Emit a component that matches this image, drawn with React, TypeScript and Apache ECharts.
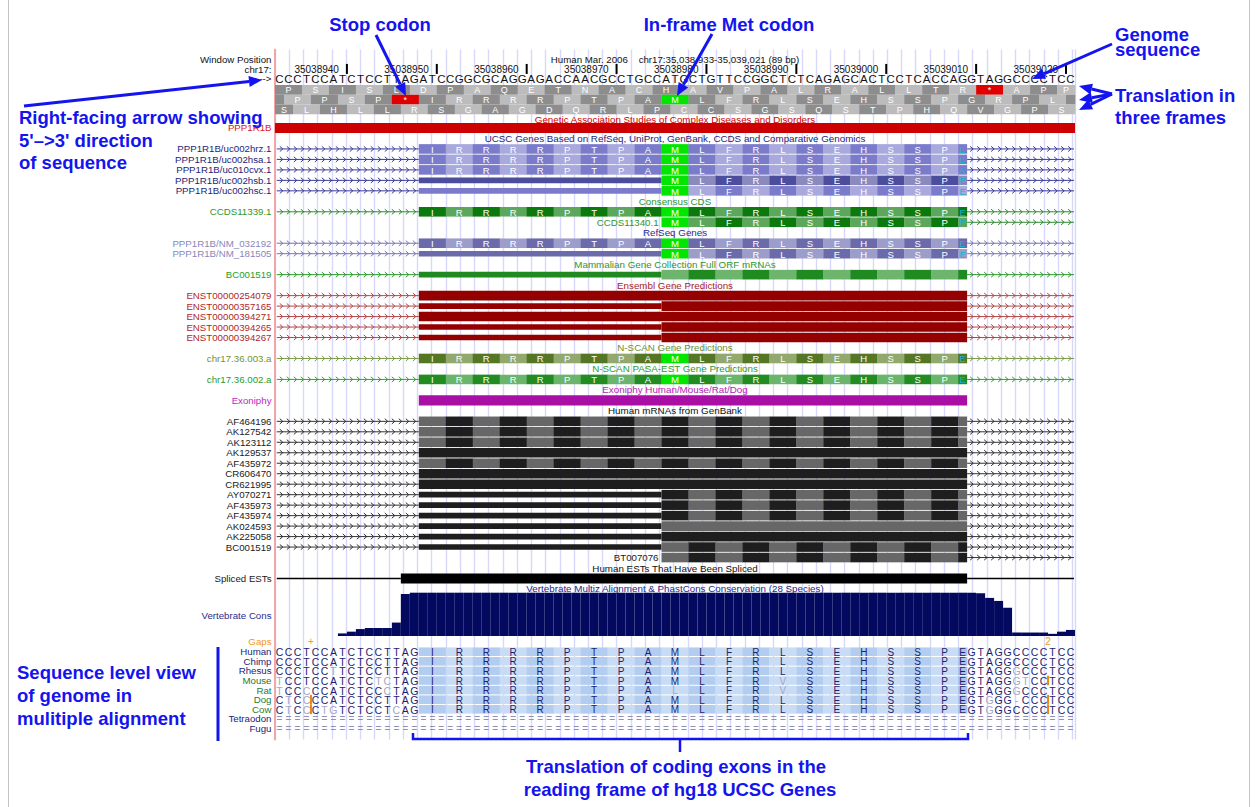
import React, { useEffect, useRef } from "react";
import * as echarts from "echarts";

/* ======================= DATA ======================= */
const FIRST_BASE = 35038933;
const BASE_COUNT = 89;
const HEADER_TEXT = "Human Mar. 2006    chr17:35,038,933-35,039,021 (89 bp)";
const GENOME_SEQUENCE =
  "CCCTCCATCTCCTTAG" +
  "ATCCGGCGCAGGAGACCAACGCCTGCCATGCTGTTCCGGCTCTCAGAGCACTCCTCACCAG" +
  "GTAGGCCCCTCC";
const POSITION_TICKS = [35038940, 35038950, 35038960, 35038970, 35038980, 35038990, 35039000, 35039010, 35039020];
const FRAME_TRANSLATIONS = [
  "PSISLDPAQETNACHAVPALRALLTR*APP",
  " PPSP*IRRRRPTPAMLFRLSEHSSPGRPL ",
  "SLHLLRSGAGDQRLPCCSGSQSTPHQVGPS",
];
// coding exon (base indexes inside the window)
const CDS_FROM = 16;
const CDS_TO = 77;
const CODING_AA = "IRRRRPTPAMLFRLSEHSSP";

const TRACK_TITLES = [
  "Genetic Association Studies of Complex Diseases and Disorders",
  "UCSC Genes Based on RefSeq, UniProt, GenBank, CCDS and Comparative Genomics",
  "Consensus CDS",
  "RefSeq Genes",
  "Mammalian Gene Collection Full ORF mRNAs",
  "Ensembl Gene Predictions",
  "N-SCAN Gene Predictions",
  "N-SCAN PASA-EST Gene Predictions",
  "Exoniphy Human/Mouse/Rat/Dog",
  "Human mRNAs from GenBank",
  "Human ESTs That Have Been Spliced",
  "Vertebrate Multiz Alignment & PhastCons Conservation (28 Species)",
];

const GAD_ITEMS = [{ label: "PPP1R1B", from: 0, to: 89 }];
const UCSC_GENES = [
  { label: "PPP1R1B/uc002hrz.1", thin: null, cds: 16, last: "E", phase: 0 },
  { label: "PPP1R1B/uc002hsa.1", thin: null, cds: 16, last: "E", phase: 0 },
  { label: "PPP1R1B/uc010cvx.1", thin: null, cds: 16, last: "A", phase: 0 },
  { label: "PPP1R1B/uc002hsb.1", thin: 16, cds: 43, last: "E", phase: 1 },
  { label: "PPP1R1B/uc002hsc.1", thin: 16, cds: 43, last: "E", phase: 1 },
];
const CCDS_GENES = [
  { label: "CCDS11339.1", thin: null, cds: 16, last: "E", phase: 0 },
  { label: "CCDS11340.1", thin: null, cds: 43, last: "E", phase: 1, inline: true },
];
const REFSEQ_GENES = [
  { label: "PPP1R1B/NM_032192", thin: null, cds: 16, last: "E", phase: 0 },
  { label: "PPP1R1B/NM_181505", thin: 16, cds: 43, last: "E", phase: 1 },
];
const MGC_GENES = [{ label: "BC001519", thin: 16, cds: 43, last: "", phase: 0 }];
const ENSEMBL_GENES = [
  { label: "ENST00000254079", thin: null, cds: 16, pattern: "solid" },
  { label: "ENST00000357165", thin: 16, cds: 43, pattern: "solid" },
  { label: "ENST00000394271", thin: null, cds: 16, pattern: "solid" },
  { label: "ENST00000394265", thin: 16, cds: 43, pattern: "solid" },
  { label: "ENST00000394267", thin: 16, cds: 43, pattern: "solid" },
];
const NSCAN_GENES = [{ label: "chr17.36.003.a", thin: null, cds: 16, last: "E", phase: 0 }];
const PASA_GENES = [{ label: "chr17.36.002.a", thin: null, cds: 16, last: "E", phase: 0 }];
const EXONIPHY_ITEMS = [{ label: "Exoniphy", from: 16, to: 77 }];
const HUMAN_MRNAS = [
  { label: "AF464196", thin: null, cds: 16, pattern: "codon", phase: 0 },
  { label: "AK127542", thin: null, cds: 16, pattern: "codon", phase: 0 },
  { label: "AK123112", thin: null, cds: 16, pattern: "codon", phase: 0 },
  { label: "AK129537", thin: null, cds: 16, pattern: "black", phase: 0 },
  { label: "AF435972", thin: null, cds: 16, pattern: "codon", phase: 0 },
  { label: "CR606470", thin: null, cds: 16, pattern: "black", phase: 0 },
  { label: "CR621995", thin: null, cds: 16, pattern: "black", phase: 0 },
  { label: "AY070271", thin: 16, cds: 43, pattern: "codon", phase: 0 },
  { label: "AF435973", thin: 16, cds: 43, pattern: "codon", phase: 0 },
  { label: "AF435974", thin: 16, cds: 43, pattern: "codon", phase: 0 },
  { label: "AK024593", thin: 16, cds: 43, pattern: "gray", phase: 0 },
  { label: "AK225058", thin: 16, cds: 43, pattern: "black", phase: 0 },
  { label: "BC001519", thin: 16, cds: 43, pattern: "codon", phase: 1 },
  { label: "BT007076", thin: null, cds: 43, pattern: "codon", phase: 1, inline: true },
];
const SPLICED_ESTS = [{ label: "Spliced ESTs", from: 14, to: 77 }];

const VERTEBRATE_CONS = [
  0, 0, 0, 0, 0, 0, 0, 0.06, 0.1, 0.16,
  0.185, 0.185, 0.185, 0.31, 0.97, 1, 1, 1, 1, 1,
  1, 1, 1, 1, 1, 1, 1, 1, 1, 1,
  1, 1, 1, 1, 1, 1, 1, 1, 1, 1,
  1, 1, 1, 1, 1, 1, 1, 1, 1, 1,
  1, 1, 1, 1, 1, 1, 1, 1, 1, 1,
  1, 1, 1, 1, 1, 1, 1, 1, 1, 1,
  1, 1, 1, 1, 1, 1, 1, 1, 0.985, 0.88,
  0.81, 0.65, 0.08, 0.08, 0.08, 0.08, 0.05, 0.1, 0.14,
];

const SPECIES = ["Human", "Chimp", "Rhesus", "Mouse", "Rat", "Dog", "Cow", "Tetraodon", "Fugu"];
const UPSTREAM = [
  "CCCTCCATCTCCTTAG", "CCCTCCATCTCCTTAG", "CCCTCCTTCTCCTTAG", "TCCTCCATCTCTCTAG",
  "TCCCCCATCTCCCTAG", "CTCCCCATCTCCTTAG", "CTCCCTGTCTCCTCAG", "", "",
];
const PROTEIN = [
  "IRRRRPTPAMLFRLSEHSSPE", "IRRRRPTPAMLFRLSEHSSPE", "IRRRRPTPAMLFRLSEHSSPE", "IRRRRPTPAMLFRVSEHSSPE",
  "IRRRRPTPALLFRVSEHSSPE", "IRRRRPTPAMLFRLSEHSSPE", "IRRRRPTPAMLFRLSEHSSPE", "", "",
];
const DOWNSTREAM = [
  "GTAGGCCCCTCC", "GTAGGCCCCTCC", "GTAGGGCCCTCC", "GTAGGGTCCTCC",
  "GTAGGGCCCTCC", "GTGGG-CCCTCC", "GTGGGCCCCTCC", "", "",
];
const GAP_MARKS = [{ at: 4, text: "+" }, { at: 86, text: "2" }];
const INSERTIONS = [
  { species: "Dog", at: 4 }, { species: "Cow", at: 4 },
  { species: "Mouse", at: 86 }, { species: "Dog", at: 86 }, { species: "Cow", at: 86 },
];

/* ======================= STYLE / LAYOUT ======================= */
const FONT = '"Liberation Sans", Arial, Helvetica, sans-serif';
const BLUE = "#1414ee";
const NOTE_SIZE = 18.5;
const ROW_PX = 10.477;
const GRID_TOP = 49.4;
const GRID_H = 690;
const Y_MIN = -7.5;
const Y_MAX = Y_MIN + GRID_H / ROW_PX;
const HEADER_ROW = -6.49;
const POS_ROW = -5.54;
const SEQ_ROW = -4.68;
const FRAME_TOP = -4.1;
const FRAME_H = 0.93;
const FIRST_TITLE_SHIFT = 0.16;
const GAPS_ROW = 49.06;
const SPECIES_ROW0 = 49.99;
const SPECIES_STEP = 0.916;
const THICK = 9.6;
const THIN = 5.6;
const MET_GREEN = "#00e600";
const LAST_CYAN = "#12b4cc";

const STYLE: any = {
  gad: { label: "#e01515", title: "#cc0000", solid: "#cc0000" },
  ucsc: { label: "#1e1e78", title: "#1e1e78", line: "#3a3a98", c0: "#7b7bcc", c1: "#a9a9de", thin: "#7b7bcc", letters: true },
  ucscDark: { label: "#1e1e78", line: "#3a3a98", c0: "#4d4d9d", c1: "#8a8abf", thin: "#4d4d9d", letters: true },
  ccds: { label: "#2d962d", title: "#2d962d", line: "#2d8a2d", c0: "#0c790c", c1: "#5ca75c", thin: "#0c790c", letters: true },
  refseq: { label: "#8787bb", title: "#2b2b8c", line: "#7474b4", c0: "#6b6bab", c1: "#9d9dcb", thin: "#6b6bab", letters: true },
  mgc: { label: "#27a027", title: "#2e962e", line: "#2a9a2a", c0: "#1f8a1f", c1: "#6db56d", thin: "#1f8a1f", letters: false },
  ensembl: { label: "#b02828", title: "#a81c1c", line: "#b04848", solid: "#940000", thin: "#940000" },
  nscan: { label: "#6f9433", title: "#6f8f33", line: "#7c9c4c", c0: "#557624", c1: "#92a86c", letters: true },
  pasa: { label: "#2c9c2c", title: "#2c9c2c", line: "#3a9a3a", c0: "#228b22", c1: "#6bb46b", letters: true },
  exoniphy: { label: "#c41cc4", title: "#b41cb4", solid: "#a90fa4" },
  mrna: { label: "#1a1a1a", title: "#111111", line: "#333333", c0: "#676767", c1: "#1e1e1e", thin: "#1e1e1e", black: "#1e1e1e", gray: "#676767" },
  est: { label: "#1a1a1a", title: "#111111", solid: "#000000" },
  cons: { label: "#2c2c8c", title: "#24248a", bar: "#03095f" },
};
const STYLE_OVERRIDE: any = { "PPP1R1B/uc002hsb.1": "ucscDark" };

/* ======================= HELPERS ======================= */
const txt = (x: number, y: number, text: string, fill: string, size: number, align = "center", weight = "normal") => ({
  type: "text",
  x,
  y,
  style: {
    text,
    fill,
    font: `${weight} ${size}px ${FONT}`,
    textAlign: align,
    textVerticalAlign: "middle",
  },
});
const rect = (x: number, y: number, w: number, h: number, fill: string) => ({
  type: "rect",
  shape: { x, y, width: w, height: h },
  style: { fill },
});
const hline = (x1: number, x2: number, y: number, stroke: string, lw = 1) => ({
  type: "line",
  shape: { x1, y1: y, x2, y2: y },
  style: { stroke, lineWidth: lw },
});

function custom(id: string, n: number, draw: (i: number, api: any) => any[]) {
  return {
    type: "custom",
    id,
    silent: true,
    clip: false,
    xAxisIndex: 0,
    yAxisIndex: 0,
    data: Array.from({ length: n }, (_, i) => [0, 0, i]),
    renderItem: (params: any, api: any) => ({ type: "group", children: draw(params.dataIndex, api) }),
  };
}
const X = (api: any, v: number) => api.coord([v, 0])[0];
const Y = (api: any, r: number) => api.coord([0, r])[1];

function intron(ch: any[], x0: number, x1: number, y: number, color: string) {
  ch.push(hline(x0, x1, y, color, 1));
  for (let c = x0 + 5; c < x1 - 2; c += 7) {
    ch.push({
      type: "polyline",
      shape: { points: [[c - 2, y - 2.6], [c + 1, y], [c - 2, y + 2.6]] },
      style: { stroke: color, lineWidth: 1, fill: "none" },
    });
  }
}

/* ======================= BUILD ROWS ======================= */
function buildRows() {
  const groups: [string, any[]][] = [
    ["gad", GAD_ITEMS],
    ["ucsc", UCSC_GENES],
    ["ccds", CCDS_GENES],
    ["refseq", REFSEQ_GENES],
    ["mgc", MGC_GENES],
    ["ensembl", ENSEMBL_GENES],
    ["nscan", NSCAN_GENES],
    ["pasa", PASA_GENES],
    ["exoniphy", EXONIPHY_ITEMS],
    ["mrna", HUMAN_MRNAS],
    ["est", SPLICED_ESTS],
    ["cons", []],
  ];
  const titles: any[] = [];
  const items: any[] = [];
  let row = -1;
  groups.forEach(([key, list], gi) => {
    titles.push({ row: gi === 0 ? row + FIRST_TITLE_SHIFT : row, text: TRACK_TITLES[gi], color: STYLE[key].title });
    row++;
    list.forEach((it) => {
      items.push({ row, key, it });
      row++;
    });
  });
  return { titles, items };
}

function drawTranscript(api: any, row: number, key: string, it: any): any[] {
  const st = STYLE[STYLE_OVERRIDE[it.label] || key];
  const y = Y(api, row);
  const ch: any[] = [];
  const start = it.thin != null ? it.thin : it.cds;
  if (it.inline) {
    ch.push(txt(X(api, it.cds) - 3, y, it.label, st.label, 9.7, "right"));
  } else {
    ch.push(txt(X(api, 0) - 3.5, y, it.label, st.label, 9.7, "right"));
    intron(ch, X(api, 0.2), X(api, start), y, st.line);
  }
  intron(ch, X(api, CDS_TO), X(api, BASE_COUNT) - 1, y, st.line);
  if (it.thin != null) {
    ch.push(rect(X(api, it.thin), y - THIN / 2, X(api, it.cds) - X(api, it.thin), THIN, st.thin));
  }
  const pattern = it.pattern || "codon";
  if (pattern !== "codon") {
    const fill = pattern === "solid" ? st.solid : st[pattern];
    ch.push(rect(X(api, it.cds), y - THICK / 2, X(api, CDS_TO) - X(api, it.cds), THICK, fill));
    return ch;
  }
  const k0 = (it.cds - CDS_FROM) / 3;
  const phase = it.phase || 0;
  for (let k = k0; k < CODING_AA.length; k++) {
    const a = CDS_FROM + 3 * k;
    const aa = CODING_AA[k];
    let fill = (k + phase) % 2 === 0 ? st.c0 : st.c1;
    if (st.letters && aa === "M") fill = MET_GREEN;
    const x0 = X(api, a);
    const x1 = X(api, a + 3);
    ch.push(rect(x0, y - THICK / 2, x1 - x0 + 0.3, THICK, fill));
    if (st.letters) ch.push(txt((x0 + x1) / 2, y + 0.5, aa, "#ffffff", 9.5));
  }
  const kl = CODING_AA.length;
  const xl0 = X(api, CDS_TO - 1);
  const xl1 = X(api, CDS_TO);
  ch.push(rect(xl0, y - THICK / 2, xl1 - xl0, THICK, (kl + phase) % 2 === 0 ? st.c0 : st.c1));
  if (st.letters && it.last) ch.push(txt((xl0 + xl1) / 2, y + 0.5, it.last, LAST_CYAN, 9.5));
  return ch;
}

function drawItem(api: any, row: number, key: string, it: any): any[] {
  const st = STYLE[key];
  const y = Y(api, row);
  if (key === "gad" || key === "exoniphy") {
    return [
      txt(X(api, 0) - 3.5, y, it.label, st.label, 9.7, "right"),
      rect(X(api, it.from), y - THICK / 2 - 0.3, X(api, it.to) - X(api, it.from), THICK + 0.6, st.solid),
    ];
  }
  if (key === "est") {
    return [
      txt(X(api, 0) - 3.5, y, it.label, st.label, 9.7, "right"),
      hline(X(api, 0.2), X(api, it.from), y, st.solid, 1.6),
      hline(X(api, it.to), X(api, BASE_COUNT) - 1, y, st.solid, 1.6),
      rect(X(api, it.from), y - THICK / 2 - 0.3, X(api, it.to) - X(api, it.from), THICK + 0.6, st.solid),
    ];
  }
  return drawTranscript(api, row, key, it);
}

/* ======================= OPTION ======================= */
function buildOption() {
  const { titles, items } = buildRows();
  const series: any[] = [];

  // header: window position, ticks, sequence
  series.push(
    custom("header", 1, (_i, api) => {
      const ch: any[] = [];
      const lx = X(api, 0) - 3.5;
      ch.push(txt(lx, Y(api, HEADER_ROW), "Window Position", "#111", 9.7, "right"));
      ch.push(txt(lx, Y(api, POS_ROW), "chr17:", "#111", 9.7, "right"));
      ch.push(txt(lx, Y(api, SEQ_ROW), "--->", "#111", 9.7, "right"));
      ch.push(txt(X(api, BASE_COUNT / 2), Y(api, HEADER_ROW), HEADER_TEXT, "#111", 9.7));
      POSITION_TICKS.forEach((p) => {
        const x = X(api, p - FIRST_BASE + 1);
        const y = Y(api, POS_ROW);
        ch.push(rect(x - 1, y - 6, 2, 10, "#000"));
        ch.push(txt(x - 8, y, String(p), "#111", 10, "right"));
      });
      return ch;
    })
  );
  series.push(
    custom("sequence", GENOME_SEQUENCE.length, (i, api) => [
      txt(X(api, i + 0.5), Y(api, SEQ_ROW), GENOME_SEQUENCE[i], "#111", 11.5),
    ])
  );
  series.push(
    custom("frames", FRAME_TRANSLATIONS.length, (f, api) => {
      const ch: any[] = [];
      const s = FRAME_TRANSLATIONS[f];
      const yt = Y(api, FRAME_TOP + f * FRAME_H);
      const yb = Y(api, FRAME_TOP + (f + 1) * FRAME_H);
      for (let c = 0; c < s.length; c++) {
        const a = Math.max(0, (f === 0 ? 0 : f - 3) + 3 * c);
        const b = Math.min(BASE_COUNT, (f === 0 ? 0 : f - 3) + 3 * c + 3);
        const aa = s[c];
        let fill = c % 2 === 0 ? "#8d8d8d" : "#bcbcbc";
        if (aa === "*") fill = "#e00000";
        if (aa === "M") fill = MET_GREEN;
        const x0 = X(api, a);
        const x1 = X(api, b);
        ch.push(rect(x0, yt, x1 - x0 + 0.3, yb - yt, fill));
        if (aa !== " ") ch.push(txt((x0 + x1) / 2, (yt + yb) / 2 + 0.5, aa, "#ffffff", 9));
      }
      return ch;
    })
  );
  series.push(
    custom("titles", titles.length, (i, api) => {
      const t = titles[i];
      return [txt(X(api, BASE_COUNT / 2), Y(api, t.row), t.text, t.color, 9.8)];
    })
  );
  series.push(custom("tracks", items.length, (i, api) => drawItem(api, items[i].row, items[i].key, items[i].it)));

  // vertebrate cons label
  const consRow = titles[titles.length - 1].row + 2.5;
  series.push(
    custom("consLabel", 1, (_i, api) => [txt(X(api, 0) - 3.5, Y(api, consRow), "Vertebrate Cons", STYLE.cons.label, 9.7, "right")])
  );

  // multiple alignment
  series.push(
    custom("gaps", 1, (_i, api) => {
      const ch: any[] = [txt(X(api, 0) - 3.5, Y(api, GAPS_ROW), "Gaps", "#f29a1c", 9.7, "right")];
      GAP_MARKS.forEach((g) => ch.push(txt(X(api, g.at), Y(api, GAPS_ROW), g.text, "#f29a1c", 10)));
      return ch;
    })
  );
  series.push(
    custom("alignment", SPECIES.length, (s, api) => {
      const ch: any[] = [];
      const r = SPECIES_ROW0 + s * SPECIES_STEP;
      const y = Y(api, r);
      const green = s >= 3 && s <= 6;
      const navy = "#1f1f70";
      const gray = "#a6a6c4";
      ch.push(txt(X(api, 0) - 3.5, y, SPECIES[s], green ? "#2a7a2a" : "#242478", 9.7, "right"));
      if (!UPSTREAM[s]) {
        for (let i = 0; i < BASE_COUNT; i++) ch.push(txt(X(api, i + 0.5), y, "=", "#8e8eb8", 10));
        return ch;
      }
      const cellH = Math.abs(Y(api, r + SPECIES_STEP) - y) - 1;
      const prot = PROTEIN[s];
      for (let k = 0; k < prot.length; k++) {
        const a = CDS_FROM + 3 * k;
        const b = Math.min(CDS_TO, a + 3);
        const x0 = X(api, a);
        const x1 = X(api, b);
        const fill = k === prot.length - 1 ? "#a7c3eb" : k % 2 === 0 ? "#b2cdf0" : "#c9dcf6";
        ch.push(rect(x0, y - cellH / 2, x1 - x0 + 0.3, cellH, fill));
        ch.push(txt((x0 + x1) / 2, y + 0.5, prot[k], prot[k] === PROTEIN[0][k] ? navy : gray, 10));
      }
      const up = UPSTREAM[s];
      for (let i = 0; i < up.length; i++) {
        ch.push(txt(X(api, i + 0.5), y + 0.5, up[i], up[i] === UPSTREAM[0][i] ? navy : gray, 10.5));
      }
      const dn = DOWNSTREAM[s];
      for (let i = 0; i < dn.length; i++) {
        ch.push(txt(X(api, CDS_TO + i + 0.5), y + 0.5, dn[i], dn[i] === DOWNSTREAM[0][i] ? navy : gray, 10.5));
      }
      INSERTIONS.filter((m) => m.species === SPECIES[s]).forEach((m) => {
        ch.push(rect(X(api, m.at) - 1, y - cellH / 2 - 0.5, 2, cellH + 1, "#e8890c"));
      });
      return ch;
    })
  );

  // conservation bars (own grid)
  series.push({
    type: "bar",
    xAxisIndex: 1,
    yAxisIndex: 1,
    data: VERTEBRATE_CONS,
    barWidth: "100%",
    barGap: "0%",
    barCategoryGap: "0%",
    silent: true,
    itemStyle: { color: STYLE.cons.bar },
  });

  // annotations
  const arrow = (x1: number, y1: number, x2: number, y2: number, w = 3, head = 13, headW = 11) => {
    const ang = Math.atan2(y2 - y1, x2 - x1);
    const bx = x2 - head * Math.cos(ang);
    const by = y2 - head * Math.sin(ang);
    const nx = (-Math.sin(ang) * headW) / 2;
    const ny = (Math.cos(ang) * headW) / 2;
    return [
      { type: "line", shape: { x1, y1, x2: bx, y2: by }, style: { stroke: BLUE, lineWidth: w } },
      { type: "polygon", shape: { points: [[x2, y2], [bx + nx, by + ny], [bx - nx, by - ny]] }, style: { fill: BLUE } },
    ];
  };
  const note = (x: number, y: number, text: string, align = "left") => ({
    type: "text",
    x,
    y,
    style: { text, fill: BLUE, font: `bold ${NOTE_SIZE}px ${FONT}`, textAlign: align, textVerticalAlign: "middle" },
  });
  const graphic: any[] = [
    { type: "line", shape: { x1: 8.5, y1: 0, x2: 8.5, y2: 807 }, style: { stroke: "#c4c4c4", lineWidth: 1 } },
    { type: "line", shape: { x1: 1249.5, y1: 0, x2: 1249.5, y2: 807 }, style: { stroke: "#c4c4c4", lineWidth: 1 } },
    note(380, 24, "Stop codon", "center"),
    note(729, 24, "In-frame Met codon", "center"),
    note(1115, 34, "Genome"),
    note(1115, 49, "sequence"),
    note(1115, 95, "Translation in"),
    note(1115, 117, "three frames"),
    note(19, 117, "Right-facing arrow showing"),
    note(19, 140, "5'\u2013>3' direction"),
    note(19, 162, "of sequence"),
    note(17, 672, "Sequence level view"),
    note(17, 695, "of genome in"),
    note(17, 718, "mulitiple alignment"),
    note(676, 766, "Translation of coding exons in the", "center"),
    note(680, 789, "reading frame of hg18 UCSC Genes", "center"),
    ...arrow(376, 35, 406, 96),
    ...arrow(712, 34, 677, 96),
    ...arrow(1112, 44, 1032, 79),
    ...arrow(1112, 94, 1079, 86),
    ...arrow(1112, 94, 1079, 100),
    ...arrow(1112, 94, 1079, 110),
    ...arrow(24, 106, 262, 80),
    { type: "line", shape: { x1: 218, y1: 647, x2: 218, y2: 741 }, style: { stroke: BLUE, lineWidth: 3 } },
    { type: "polyline", shape: { points: [[413, 733], [413, 739], [968, 739], [968, 733]] }, style: { stroke: BLUE, lineWidth: 2.5, fill: "none" } },
    { type: "line", shape: { x1: 680, y1: 739, x2: 680, y2: 752 }, style: { stroke: BLUE, lineWidth: 2.5 } },
  ];

  return {
    animation: false,
    backgroundColor: "#ffffff",
    grid: [
      { left: 275, top: GRID_TOP, width: 800, height: GRID_H },
      { left: 275, top: 592.7, width: 800, height: 43.3 },
    ],
    xAxis: [
      {
        type: "value",
        gridIndex: 0,
        min: 0,
        max: BASE_COUNT,
        interval: 1.584,
        axisLine: { show: false },
        axisTick: { show: false },
        axisLabel: { show: false },
        splitLine: { show: true, lineStyle: { color: "#d8d8fb", width: 1.4 } },
      },
      {
        type: "category",
        gridIndex: 1,
        data: VERTEBRATE_CONS.map((_, i) => String(FIRST_BASE + i)),
        show: false,
      },
    ],
    yAxis: [
      {
        type: "value",
        gridIndex: 0,
        inverse: true,
        min: Y_MIN,
        max: Y_MAX,
        offset: 1,
        axisLine: { show: true, lineStyle: { color: "#f4a6a6", width: 2 } },
        axisTick: { show: false },
        axisLabel: { show: false },
        splitLine: { show: false },
      },
      { type: "value", gridIndex: 1, min: 0, max: 1, show: false },
    ],
    series,
    graphic: { elements: graphic.map((g) => ({ ...g, z: 100 })) },
  };
}

export default function App() {
  const ref = useRef<HTMLDivElement>(null);
  useEffect(() => {
    const chart = echarts.init(ref.current as HTMLDivElement, null, { renderer: "svg" });
    chart.setOption(buildOption() as any);
    return () => chart.dispose();
  }, []);
  return (
    <div
      ref={ref}
      style={{ position: "fixed", left: 0, top: 0, width: 1258, height: 807, background: "#fff" }}
    />
  );
}
